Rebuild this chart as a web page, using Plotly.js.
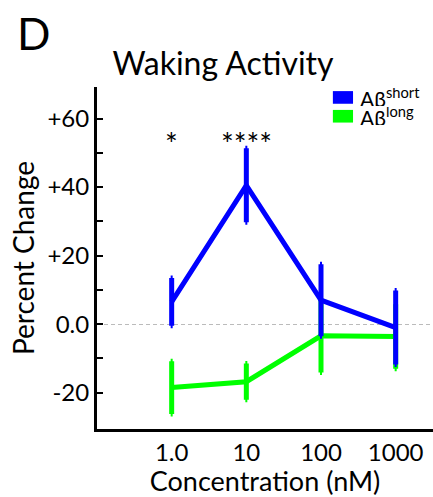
<!DOCTYPE html>
<html>
<head>
<meta charset="utf-8">
<script src="https://cdn.plot.ly/plotly-3.0.1.min.js"></script>
<style>
  html, body { margin: 0; padding: 0; background: #fff; }
  #chart { width: 433px; height: 497px; }
</style>
</head>
<body>
<div id="chart"></div>
<script>
// Concentrations (nM) shown as evenly spaced categories
const concentrations = ['1.0', '10', '100', '1000'];

// Percent change in waking activity, mean and SEM
const shortMean = [6.5, 40.5, 7.0, -1.0];
const shortErr  = [7.0, 10.8, 10.5, 10.8];
const longMean  = [-18.5, -16.8, -3.4, -3.6];
const longErr   = [7.7, 5.3, 10.7, 9.4];

// Significance markers above the short-form series
const sigCats   = ['1.0', '10'];
const sigLabels = ['*', '****'];
const sigLevel  = 53;

// Y tick labels: major ticks labelled, minor ticks blank
const yTickVals = [60, 50, 40, 30, 20, 10, 0, -10, -20];
const yTickText = ['+60', '', '+40', '', '+20', '', '0.0', '', '-20'];

const seriesNames  = ['A\u03b2<sup>short</sup>', 'A\u03b2<sup>long</sup>'];
const seriesColors = ['#0000ff', '#00ff00'];

const FONT = 'Lato, "DejaVu Sans", sans-serif';

// Long form drawn first so the short-form bars sit on top
const traces = [
  {
    x: concentrations, y: longMean, type: 'scatter', mode: 'lines',
    line: { color: seriesColors[1], width: 5 },
    error_y: { type: 'data', array: longErr, visible: true, color: seriesColors[1], thickness: 5, width: 1 },
    showlegend: false, hoverinfo: 'skip'
  },
  {
    x: concentrations, y: shortMean, type: 'scatter', mode: 'lines',
    line: { color: seriesColors[0], width: 5 },
    error_y: { type: 'data', array: shortErr, visible: true, color: seriesColors[0], thickness: 5, width: 1 },
    showlegend: false, hoverinfo: 'skip'
  }
];

// Legend: coloured blocks with labels at the top right of the plot
const legendShapes = [];
const legendNotes = [];
const legendTop = [0.988, 0.933];
seriesNames.forEach((name, i) => {
  legendShapes.push({
    type: 'rect', xref: 'paper', yref: 'paper',
    x0: 0.702, x1: 0.762, y0: legendTop[i] - 0.037, y1: legendTop[i],
    fillcolor: seriesColors[i], line: { width: 0 }, layer: 'above'
  });
  legendNotes.push({
    xref: 'paper', yref: 'paper', x: 0.776, y: legendTop[i] - 0.0185,
    xanchor: 'left', yanchor: 'middle', showarrow: false,
    height: 18, valign: 'middle',
    text: name, font: { family: FONT, size: 21, color: '#000' }
  });
});

// Category axes take annotation positions as category indices
const sigNotes = sigCats.map((c, i) => ({
  x: concentrations.indexOf(c), y: sigLevel, xref: 'x', yref: 'y', showarrow: false,
  text: sigLabels[i], yanchor: 'middle',
  font: { family: FONT, size: 30, color: '#000' }
}));

const panelLetter = {
  xref: 'paper', yref: 'paper', x: -0.245, y: 1.158,
  xanchor: 'left', yanchor: 'middle', showarrow: false,
  text: 'D', font: { family: FONT, size: 44, color: '#000' }
};

const layout = {
  width: 433, height: 497,
  margin: { l: 97, r: 0, t: 87, b: 68 },
  paper_bgcolor: '#fff', plot_bgcolor: '#fff',
  font: { family: FONT, color: '#000' },
  title: {
    text: 'Waking Activity', xref: 'container', yref: 'container',
    x: 0.515, xanchor: 'center', y: 0.872, yanchor: 'middle',
    font: { family: FONT, size: 32, color: '#000' }
  },
  xaxis: {
    type: 'category', range: [-1, 3.5],
    showline: true, linecolor: '#000', linewidth: 3,
    ticks: '', showgrid: false, zeroline: false,
    tickfont: { family: FONT, size: 24, color: '#000' },
    title: { text: 'Concentration (nM)', font: { family: FONT, size: 27, color: '#000' }, standoff: 8 }
  },
  yaxis: {
    range: [-30.6, 69.2],
    showline: true, linecolor: '#000', linewidth: 3,
    tickvals: yTickVals, ticktext: yTickText,
    ticks: 'inside', ticklen: 6, tickwidth: 2, tickcolor: '#000',
    showgrid: false,
    zeroline: true, zerolinecolor: '#bbbbbb', zerolinewidth: 1,
    tickfont: { family: FONT, size: 24, color: '#000' },
    title: { text: 'Percent Change', font: { family: FONT, size: 28, color: '#000' }, standoff: 5 }
  },
  shapes: legendShapes,
  annotations: [panelLetter].concat(sigNotes, legendNotes)
};

Plotly.newPlot('chart', traces, layout, { displayModeBar: false, staticPlot: true }).then(() => {
  // Dash the zero reference line
  document.querySelectorAll('.zl').forEach(el => el.style.strokeDasharray = '4px,3px');
});
</script>
</body>
</html>
